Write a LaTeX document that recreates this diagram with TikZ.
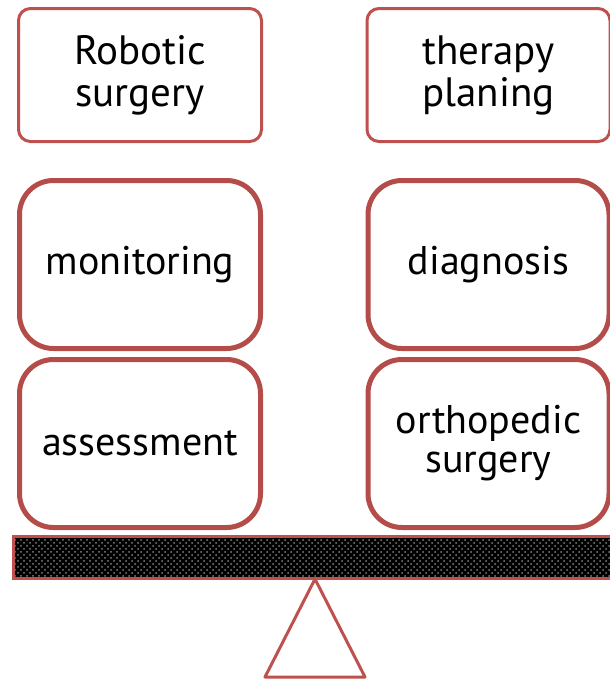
\documentclass[tikz,border=0pt]{standalone}
\usepackage{fontspec}
\setmainfont{PT Sans}[Ligatures=NoCommon]
\usetikzlibrary{patterns}
\definecolor{scalered}{RGB}{190,80,77}
\tikzset{
  toppan/.style={draw=scalered, line width=1.5pt, rounded corners=6pt,
    minimum width=121.5pt, minimum height=66.5pt, align=center,
    font=\fontsize{20.5}{21}\selectfont},
  weight/.style={draw=scalered!95!black, line width=2.5pt, rounded corners=17pt,
    minimum width=120.5pt, minimum height=84pt, align=center,
    font=\fontsize{20}{19.5}\selectfont}
}

\begin{document}
\begin{tikzpicture}[x=0.5pt,y=-0.5pt]
\useasboundingbox (0,0) rectangle (610,681);
% loose items on top
\node[toppan] (robotic) at (140,75) {Robotic\\surgery};
\node[toppan] (therapy) at (488.5,75) {therapy\\planing};
% stacked weights
\node[weight] (monitoring) at (140,264.5) {monitoring};
\node[weight] (diagnosis) at (488.5,264.5) {diagnosis};
\node[weight] (assessment) at (140,443.5) {assessment};
\node[weight] (ortho) at (488.5,443.5) {orthopedic\\surgery};
% beam and pivot
\fill[black] (13,536) rectangle (614,578);
\fill[pattern=crosshatch dots, pattern color=gray] (13,536) rectangle (614,578);
\draw[scalered, line width=1.5pt] (13,536) rectangle (614,578);
\draw[scalered, line width=1.5pt, line join=round] (315,579) -- (265,677) -- (365,677) -- cycle;
\end{tikzpicture}
\end{document}
